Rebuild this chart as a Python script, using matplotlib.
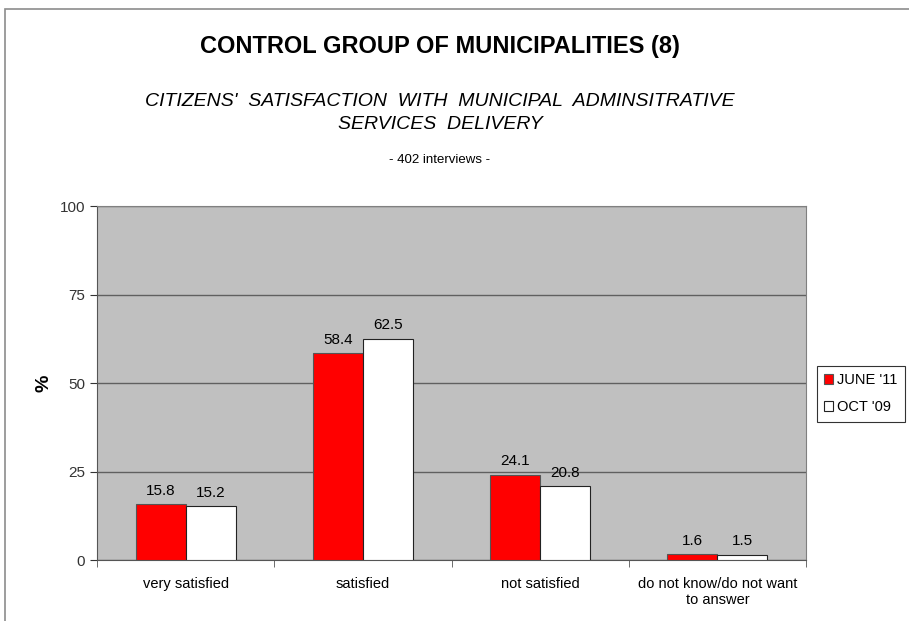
import matplotlib.pyplot as plt
from matplotlib.patches import Rectangle
import numpy as np

categories = ['very satisfied', 'satisfied', 'not satisfied',
              'do not know/do not want\nto answer']
june_11 = [15.8, 58.4, 24.1, 1.6]
oct_09 = [15.2, 62.5, 20.8, 1.5]
yticks = [0, 25, 50, 75, 100]

plt.rcParams['font.family'] = ['Liberation Sans', 'DejaVu Sans']

fig = plt.figure(figsize=(9.09, 6.21), dpi=100)
ax = fig.add_axes([0.1067, 0.0982, 0.78, 0.570])

# outer frame lines (top and left)
fig.patches.append(Rectangle((0.0055, -0.1), 1.2, 1.0855,
                             transform=fig.transFigure, fill=False,
                             edgecolor='#8c8c8c', linewidth=1.2))

x = np.arange(len(categories))
w = 0.282
ax.bar(x - w / 2, june_11, w, color='#ff0000', edgecolor='#555555',
       linewidth=0.8, label="JUNE '11", zorder=3)
ax.bar(x + w / 2, oct_09, w, color='white', edgecolor='#222222',
       linewidth=0.8, label="OCT '09", zorder=3)

for xi, v in zip(x, june_11):
    ax.text(xi - w / 2, v + 1.8, f'{v:.1f}', ha='center', va='bottom', fontsize=11)
for xi, v in zip(x, oct_09):
    ax.text(xi + w / 2, v + 1.8, f'{v:.1f}', ha='center', va='bottom', fontsize=11)

ax.set_facecolor('#c0c0c0')
ax.set_xlim(-0.5, len(categories) - 0.5)
ax.set_ylim(0, 100)
ax.set_yticks(yticks)
ax.tick_params(axis='y', labelsize=11, colors='#333333', length=5)
ax.set_xticks(x)
ax.set_xticklabels(categories, fontsize=10.5)
ax.tick_params(axis='x', length=0, pad=12)
ax.set_xticks(np.arange(-0.5, len(categories)), minor=True)
ax.tick_params(axis='x', which='minor', length=5, color='#555555')
ax.yaxis.grid(True, color='#606060', linewidth=1, zorder=0)
for s in ['top', 'right']:
    ax.spines[s].set_color('#808080')
for s in ['left', 'bottom']:
    ax.spines[s].set_color('#555555')

ax.set_ylabel('%', fontsize=14, fontweight='bold', labelpad=5)

leg = ax.legend(loc='center left', bbox_to_anchor=(1.005, 0.47), fontsize=10.5,
                frameon=True, fancybox=False, edgecolor='black',
                handlelength=0.6, handleheight=0.6, handletextpad=0.3,
                borderpad=0.5, labelspacing=0.9)
leg.get_frame().set_linewidth(0.8)

fig.text(0.484, 0.925, 'CONTROL GROUP OF MUNICIPALITIES (8)', ha='center',
         va='center', fontsize=17, fontweight='bold')
fig.text(0.484, 0.818, "CITIZENS'  SATISFACTION  WITH  MUNICIPAL  ADMINSITRATIVE\nSERVICES  DELIVERY",
         ha='center', va='center', fontsize=14, style='italic', linespacing=1.45)
fig.text(0.484, 0.742, '- 402 interviews -', ha='center', va='center', fontsize=9.5)

fig.savefig('out.png', dpi=100)
